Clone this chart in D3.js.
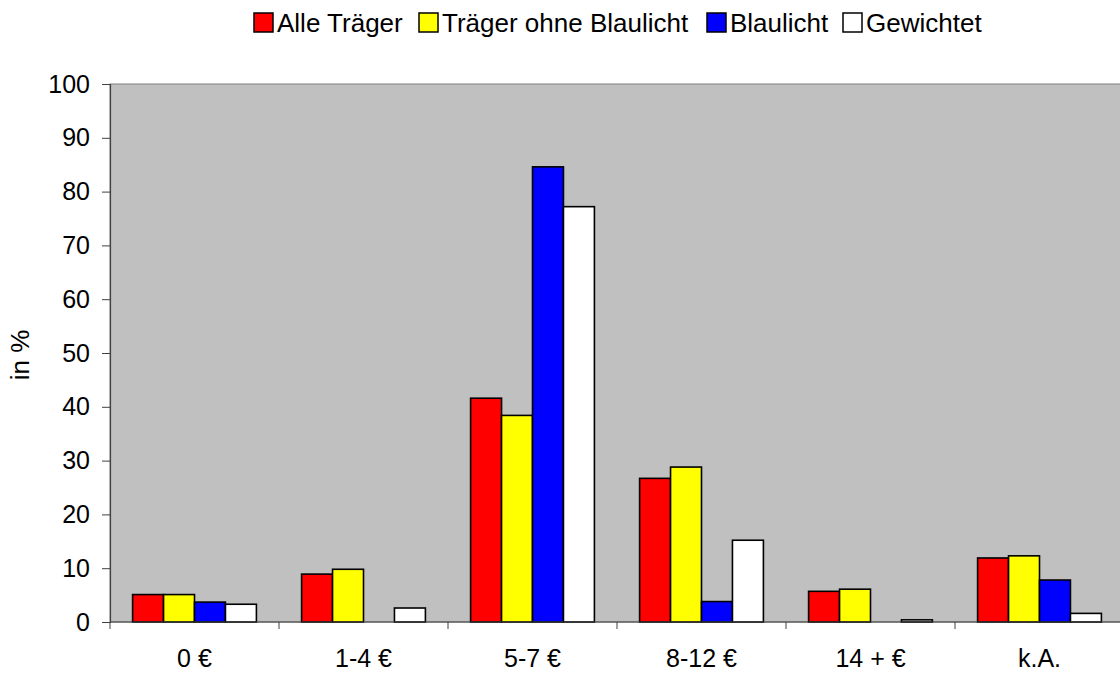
<!DOCTYPE html>
<html>
<head>
<meta charset="utf-8">
<script src="https://cdn.jsdelivr.net/npm/d3@7"></script>
<style>
  body { margin: 0; background: #fff; }
  text { font-family: "Liberation Sans", Arial, sans-serif; }
</style>
</head>
<body>
<svg id="chart" width="1120" height="673"></svg>
<script>
// Kategorien und Werte (in %)
var categories = ["0 €", "1-4 €", "5-7 €", "8-12 €", "14 + €", "k.A."];
var seriesNames = ["Alle Träger", "Träger ohne Blaulicht", "Blaulicht", "Gewichtet"];
var seriesColors = ["#ff0000", "#ffff00", "#0000ff", "#ffffff"];
var alleTraeger = [5.1, 8.9, 41.6, 26.7, 5.7, 11.9];
var ohneBlaulicht = [5.1, 9.8, 38.4, 28.8, 6.1, 12.3];
var blaulicht = [3.7, 0, 84.6, 3.8, 0, 7.8];
var gewichtet = [3.3, 2.6, 77.2, 15.2, 0.4, 1.6];
var yTicks = [0, 10, 20, 30, 40, 50, 60, 70, 80, 90, 100];

var values = [alleTraeger, ohneBlaulicht, blaulicht, gewichtet];

var svg = d3.select("#chart");
var pLeft = 110, pTop = 84, pRight = 1124, pBottom = 622;

var x = d3.scaleBand().domain(categories).range([pLeft, pRight]);
var xi = d3.scaleBand().domain(d3.range(seriesNames.length))
  .range([0, x.bandwidth()]).paddingOuter(0.73).paddingInner(0);
var y = d3.scaleLinear().domain([0, 100]).range([pBottom, pTop]);

// Hintergrund der Zeichenfläche
svg.append("rect")
  .attr("x", pLeft).attr("y", pTop)
  .attr("width", pRight - pLeft).attr("height", pBottom - pTop)
  .attr("fill", "#c0c0c0")
  .attr("stroke", "#808080")
  .attr("stroke-width", 1);

// Balken
var groups = svg.append("g")
  .selectAll("g")
  .data(values)
  .enter()
  .append("g")
  .attr("fill", function (d, i) { return seriesColors[i]; });

groups.selectAll("rect")
  .data(function (d, i) {
    return d.map(function (v, j) { return { s: i, c: categories[j], v: v }; })
      .filter(function (e) { return e.v > 0; });
  })
  .enter()
  .append("rect")
  .attr("x", function (d) { return x(d.c) + xi(d.s); })
  .attr("y", function (d) { return y(d.v); })
  .attr("width", xi.bandwidth())
  .attr("height", function (d) { return y(0) - y(d.v); })
  .attr("stroke", "#000")
  .attr("stroke-width", 1.6);

// y-Achse
var yAxis = svg.append("g")
  .attr("transform", "translate(" + pLeft + ",0)")
  .call(d3.axisLeft(y).tickValues(yTicks).tickSize(8).tickPadding(12));
yAxis.select(".domain").attr("stroke", "#404040").attr("stroke-width", 1.2);
yAxis.selectAll(".tick line").attr("stroke", "#404040");
yAxis.selectAll("text").attr("font-size", 25).attr("fill", "#000")
  .style("font-family", "'Liberation Sans', Arial, sans-serif");

// x-Achse
svg.append("line")
  .attr("x1", pLeft).attr("x2", pRight)
  .attr("y1", pBottom).attr("y2", pBottom)
  .attr("stroke", "#404040").attr("stroke-width", 1.2);

svg.append("g")
  .selectAll("line")
  .data(categories)
  .enter()
  .append("line")
  .attr("x1", function (d) { return x(d); })
  .attr("x2", function (d) { return x(d); })
  .attr("y1", pBottom).attr("y2", pBottom + 7)
  .attr("stroke", "#404040");

svg.append("g")
  .selectAll("text")
  .data(categories)
  .enter()
  .append("text")
  .attr("x", function (d) { return x(d) + x.bandwidth() / 2; })
  .attr("y", 667)
  .attr("text-anchor", "middle")
  .attr("font-size", 25)
  .text(function (d) { return d; });

// Achsentitel
svg.append("text")
  .attr("transform", "translate(29,355) rotate(-90)")
  .attr("text-anchor", "middle")
  .attr("font-size", 26)
  .text("in %");

// Legende
var legendX = [254, 419, 707, 843];
var legend = svg.append("g")
  .selectAll("g")
  .data(seriesNames)
  .enter()
  .append("g")
  .attr("transform", function (d, i) { return "translate(" + legendX[i] + ",13)"; });

legend.append("rect")
  .attr("width", 19).attr("height", 19)
  .attr("fill", function (d, i) { return seriesColors[i]; })
  .attr("stroke", "#000").attr("stroke-width", 1.5);

legend.append("text")
  .attr("x", 23).attr("y", 19)
  .attr("font-size", 26)
  .text(function (d) { return d; });
</script>
</body>
</html>
